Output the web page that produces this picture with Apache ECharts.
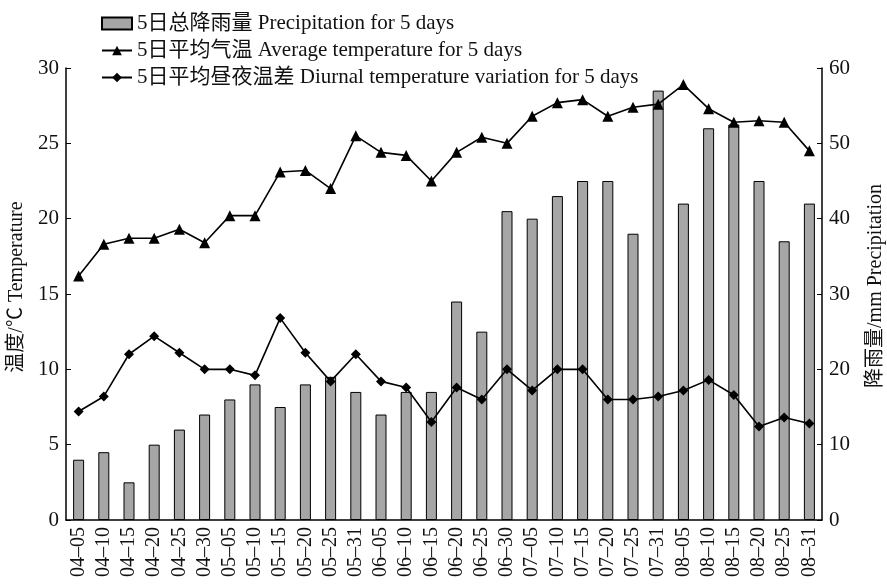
<!DOCTYPE html>
<html>
<head>
<meta charset="utf-8">
<script src="https://cdn.jsdelivr.net/npm/echarts@6/dist/echarts.min.js"></script>
<style>html,body{margin:0;padding:0;background:#fff;}#c{width:887px;height:584px;}</style>
</head>
<body>
<div id="c"></div>
<script>
const categories = ['04–05','04–10','04–15','04–20','04–25','04–30','05–05','05–10','05–15','05–20','05–25','05–31','06–05','06–10','06–15','06–20','06–25','06–30','07–05','07–10','07–15','07–20','07–25','07–31','08–05','08–10','08–15','08–20','08–25','08–31'];
const precipitation = [8,9,5,10,12,14,16,18,15,18,19,17,14,17,17,29,25,41,40,43,45,45,38,57,42,52,52.5,45,37,42];
const avgTemp = [16.2,18.3,18.7,18.7,19.3,18.4,20.2,20.2,23.1,23.2,22.0,25.5,24.4,24.2,22.5,24.4,25.4,25.0,26.8,27.7,27.9,26.8,27.4,27.6,28.9,27.3,26.4,26.5,26.4,24.5];
const diurnal = [7.2,8.2,11.0,12.2,11.1,10.0,10.0,9.6,13.4,11.1,9.2,11.0,9.2,8.8,6.5,8.8,8.0,10.0,8.6,10.0,10.0,8.0,8.0,8.2,8.6,9.3,8.3,6.2,6.8,6.4];
const leftTicks = [0,5,10,15,20,25,30];
const rightTicks = [0,10,20,30,40,50,60];

const FONT = "'Liberation Serif','Noto Sans CJK SC',serif";
const chart = echarts.init(document.getElementById('c'), null, {renderer:'canvas'});
chart.setOption({
  animation: false,
  backgroundColor: '#fff',
  textStyle: {fontFamily: FONT, color: '#000'},
  legend: {
    orient: 'vertical', left: 96, top: 8, itemGap: 6,
    itemWidth: 30, itemHeight: 12,
    textStyle: {fontFamily: FONT, fontSize: 21, color: '#111', lineHeight: 21},
    data: [
      {name: '5日总降雨量 Precipitation for 5 days', icon: 'rect'},
      {name: '5日平均气温 Average temperature for 5 days'},
      {name: '5日平均昼夜温差 Diurnal temperature variation for 5 days'}
    ]
  },
  grid: {left: 66, right: 65, top: 68, bottom: 64, containLabel: false, outerBoundsMode: 'none'},
  xAxis: {
    type: 'category', data: categories, boundaryGap: true,
    axisLine: {lineStyle: {color: '#000', width: 1.5}},
    axisTick: {inside: true, length: 4, lineStyle: {color: '#000'}},
    axisLabel: {rotate: 90, margin: 7, fontSize: 20, color: '#111', fontFamily: FONT, interval: 0},
    splitLine: {show: false}
  },
  yAxis: [
    {
      type: 'value', min: 0, max: 30, interval: 5, position: 'left',
      name: '温度/℃ Temperature', nameLocation: 'middle', nameGap: 37, nameRotate: 90,
      nameTextStyle: {fontSize: 20, color: '#111', fontFamily: FONT, padding: [0, 0, 0, 14]},
      axisLine: {show: true, lineStyle: {color: '#000', width: 1.5}},
      axisTick: {show: true, inside: true, length: 5, lineStyle: {color: '#000'}},
      axisLabel: {fontSize: 21, color: '#111', fontFamily: FONT, margin: 7},
      splitLine: {show: false}
    },
    {
      type: 'value', min: 0, max: 60, interval: 10, position: 'right',
      name: '降雨量/mm Precipitation', nameLocation: 'middle', nameGap: 44, nameRotate: 90,
      nameTextStyle: {fontSize: 20, color: '#111', fontFamily: FONT, padding: [0, 0, 0, 16]},
      axisLine: {show: true, lineStyle: {color: '#000', width: 1.5}},
      axisTick: {show: true, inside: true, length: 5, lineStyle: {color: '#000'}},
      axisLabel: {fontSize: 21, color: '#111', fontFamily: FONT, margin: 7},
      splitLine: {show: false}
    }
  ],
  series: [
    {
      name: '5日总降雨量 Precipitation for 5 days', type: 'bar', yAxisIndex: 1,
      data: precipitation, barWidth: 11,
      itemStyle: {color: '#a6a6a6', borderColor: '#000', borderWidth: 1}, z: 1
    },
    {
      name: '5日平均气温 Average temperature for 5 days', type: 'line', yAxisIndex: 0,
      data: avgTemp, symbol: 'triangle', symbolSize: 11,
      lineStyle: {color: '#000', width: 1.6}, itemStyle: {color: '#000'}, z: 3
    },
    {
      name: '5日平均昼夜温差 Diurnal temperature variation for 5 days', type: 'line', yAxisIndex: 0,
      data: diurnal, symbol: 'diamond', symbolSize: 10,
      lineStyle: {color: '#000', width: 1.6}, itemStyle: {color: '#000'}, z: 3
    }
  ]
});
</script>
</body>
</html>
